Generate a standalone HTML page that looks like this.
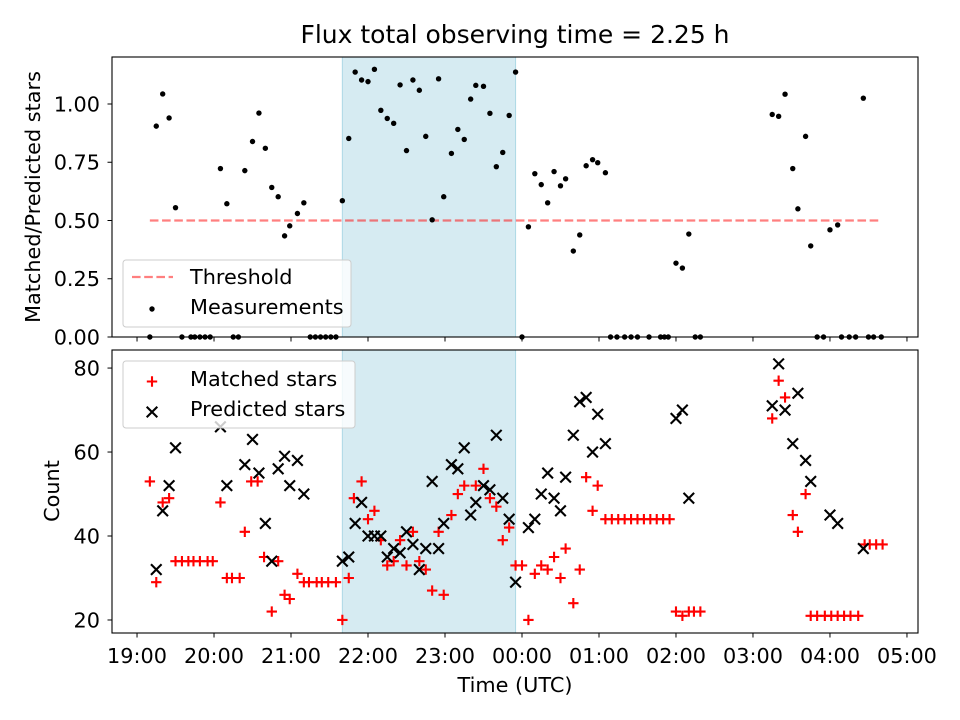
<!DOCTYPE html>
<html><head><meta charset="utf-8">
<style>
html,body{margin:0;padding:0;background:#fff;}
svg{display:block;font-family:"DejaVu Sans","Liberation Sans",sans-serif;}
</style></head>
<body>
<svg id="chart" width="960" height="720" viewBox="0 0 960 720"></svg>
<script>
// ---- data (time in minutes after 19:00 UTC) ----
const shadeStart = 160;   // 21:40
const shadeEnd = 295;     // 23:55
const thresholdValue = 0.5;
const thresholdT0 = 10, thresholdT1 = 580;

const ratioTimes = [15,20,25,30,65,70,84,90,95,100,105,110,115,119,125,130,160,165,170,175,180,185,190,195,200,205,210,215,220,225,230,235,239,245,250,255,260,264,270,275,280,285,290,295,
 305,310,315,320,325,330,334,340,345,350,355,359,365,420,425,430,495,500,505,511,515,521,525,540,546,566,
 10,35,42,45,49,53,57,75,79,135,139,143,147,151,155,300,369,374,380,385,390,399,408,411,414,435,439,530,535,549,555,560,570,574,580];
const ratioValues = [0.905,1.043,0.94,0.555,0.723,0.572,0.714,0.839,0.961,0.81,0.642,0.602,0.434,0.477,0.53,0.576,0.585,0.852,1.137,1.103,1.096,1.149,0.973,0.938,0.917,1.082,0.8,1.103,1.059,0.861,0.503,1.108,0.602,0.788,0.891,0.848,1.021,1.08,1.076,0.96,0.731,0.792,0.951,1.137,
 0.473,0.701,0.654,0.576,0.71,0.649,0.679,0.369,0.438,0.735,0.761,0.748,0.705,0.317,0.296,0.442,0.955,0.947,1.042,0.723,0.55,0.861,0.391,0.46,0.481,1.025,
 0,0,0,0,0,0,0,0,0,0,0,0,0,0,0,0,0,0,0,0,0,0,0,0,0,0,0,0,0,0,0,0,0,0,0];

const matchedTimes = [10,15,20,25,30,35,40,44,49,55,59,65,70,74,80,84,89,94,99,105,110,115,119,125,130,134,140,144,149,155,160,165,169,175,180,185,190,195,200,205,210,215,220,225,230,235,239,245,250,255,264,270,275,280,285,290,295,300,305,310,315,320,325,330,334,340,345,350,355,359,365,370,375,380,385,390,395,400,405,410,415,420,425,430,434,439,495,500,505,511,515,521,525,530,536,541,546,551,556,562,567,571,576,581];
const matchedValues = [53,29,48,49,34,34,34,34,34,34,34,48,30,30,30,41,53,53,35,22,34,26,25,31,29,29,29,29,29,29,20,30,49,53,44,46,39,33,34,39,33,41,34,32,27,41,26,45,50,52,52,56,49,47,39,42,33,33,20,31,33,32,35,30,37,24,32,54,46,52,44,44,44,44,44,44,44,44,44,44,44,22,21,22,22,22,68,77,73,45,41,50,21,21,21,21,21,21,21,21,38,38,38,38];

const predictedTimes = [15,20,25,30,65,70,84,90,95,100,105,110,115,119,125,130,160,165,170,175,180,185,190,195,200,205,210,215,220,225,230,235,239,245,250,255,260,264,270,275,280,285,290,295,305,310,315,320,325,330,334,340,345,350,355,359,365,420,425,430,495,500,505,511,515,521,525,540,546,566];
const predictedValues = [32,46,52,61,66,52,57,63,55,43,34,56,59,52,58,50,34,35,43,48,40,40,40,35,37,36,41,38,32,37,53,37,43,57,56,61,45,48,52,51,64,49,44,29,42,44,50,55,49,46,54,64,72,73,60,69,62,68,70,49,71,81,70,62,74,58,53,45,43,37];

const xTickLabels = ["19:00","20:00","21:00","22:00","23:00","00:00","01:00","02:00","03:00","04:00","05:00"];
const topYTicks = [0,0.25,0.5,0.75,1.0];
const botYTicks = [20,40,60,80];

// ---- scales ----
const NS = "http://www.w3.org/2000/svg";
const svg = document.getElementById("chart");
const L = 112, R = 918;
const tMin = -19.5, tMax = 608.6;
function xs(t){ return L + (t - tMin) / (tMax - tMin) * (R - L); }
const topT = 57, topB = 337, rMin = 0, rMax = 1.2017;
function yTop(v){ return topB - (v - rMin) / (rMax - rMin) * (topB - topT); }
const botT = 350, botB = 633, cMin = 16.9, cMax = 84.3;
function yBot(v){ return botB - (v - cMin) / (cMax - cMin) * (botB - botT); }

const FS = "20.8";
function el(tag, attrs, parent){
  const e = document.createElementNS(NS, tag);
  for (const k in attrs) e.setAttribute(k, attrs[k]);
  (parent || svg).appendChild(e);
  return e;
}

// title
const title = el("text",{x:515,y:43,"text-anchor":"middle","font-size":"25"});
title.textContent = "Flux total observing time = 2.25 h";



// clip paths
const defs = el("defs",{});
const c1 = el("clipPath",{id:"clipTop"},defs); el("rect",{x:L,y:topT-3,width:R-L,height:topB-topT+6},c1);
const c2 = el("clipPath",{id:"clipBot"},defs); el("rect",{x:L,y:botT,width:R-L,height:botB-botT},c2);

// shaded windows
[[topT,topB],[botT,botB]].forEach(function(p,i){
  const r = el("rect",{x:xs(shadeStart),y:p[0],width:xs(shadeEnd)-xs(shadeStart),height:p[1]-p[0],fill:"#add8e6","fill-opacity":"0.5",stroke:"#add8e6","stroke-width":"1"});
  
  
});

// threshold line
const thr = el("line",{x1:xs(thresholdT0),x2:xs(thresholdT1),y1:yTop(thresholdValue),y2:yTop(thresholdValue),stroke:"#ff0000","stroke-opacity":"0.5","stroke-width":"2.2","stroke-dasharray":"8.6,3.6"});



// ratio points
const gR = el("g",{"clip-path":"url(#clipTop)"});


for (let i=0;i<ratioTimes.length;i++){
  const c = el("circle",{cx:xs(ratioTimes[i]),cy:yTop(ratioValues[i]),r:2.7,fill:"#000"},gR);
  
  
}

// matched stars (+)
const gM = el("g",{"clip-path":"url(#clipBot)",stroke:"#ff0000","stroke-width":"2.1"});


for (let i=0;i<matchedTimes.length;i++){
  const x = xs(matchedTimes[i]), y = yBot(matchedValues[i]), s = 5.2;
  const p = el("path",{d:"M"+(x-s)+","+y+"H"+(x+s)+"M"+x+","+(y-s)+"V"+(y+s)},gM);
  
  
}
// predicted stars (x)
const gP = el("g",{"clip-path":"url(#clipBot)",stroke:"#000","stroke-width":"2.1"});


for (let i=0;i<predictedTimes.length;i++){
  const x = xs(predictedTimes[i]), y = yBot(predictedValues[i]), s = 5.3;
  const p = el("path",{d:"M"+(x-s)+","+(y-s)+"L"+(x+s)+","+(y+s)+"M"+(x-s)+","+(y+s)+"L"+(x+s)+","+(y-s)},gP);
  
  
}

// axes frames
[[topT,topB,'top-axes-frame'],[botT,botB,'bottom-axes-frame']].forEach(function(p){
  const r = el("rect",{x:L,y:p[0],width:R-L,height:p[1]-p[0],fill:"none",stroke:"#000","stroke-width":"1.1"});
  
  
});

// x ticks
for (let i=0;i<xTickLabels.length;i++){
  const x = xs(i*60);
  el("line",{x1:x,x2:x,y1:topB,y2:topB+4.5,stroke:"#000","stroke-width":"1"});
  el("line",{x1:x,x2:x,y1:botB,y2:botB+4.5,stroke:"#000","stroke-width":"1"});
  const t = el("text",{x:x,y:663,"text-anchor":"middle","font-size":FS});
  t.textContent = xTickLabels[i];
  
  
}
// top y ticks
for (let i=0;i<topYTicks.length;i++){
  const y = yTop(topYTicks[i]);
  el("line",{x1:L-4.5,x2:L,y1:y,y2:y,stroke:"#000","stroke-width":"1"});
  const t = el("text",{x:L-12,y:y+7.5,"text-anchor":"end","font-size":FS});
  t.textContent = topYTicks[i].toFixed(2);
  
  
}
// bottom y ticks
for (let i=0;i<botYTicks.length;i++){
  const y = yBot(botYTicks[i]);
  el("line",{x1:L-4.5,x2:L,y1:y,y2:y,stroke:"#000","stroke-width":"1"});
  const t = el("text",{x:L-12,y:y+7.5,"text-anchor":"end","font-size":FS});
  t.textContent = String(botYTicks[i]);
  
  
}

// axis titles
const yl1 = el("text",{x:0,y:0,"text-anchor":"middle","font-size":FS,transform:"translate(40,197) rotate(-90)"});
yl1.textContent = "Matched/Predicted stars";


const yl2 = el("text",{x:0,y:0,"text-anchor":"middle","font-size":FS,transform:"translate(59,491) rotate(-90)"});
yl2.textContent = "Count";


const xl = el("text",{x:515,y:692,"text-anchor":"middle","font-size":FS});
xl.textContent = "Time (UTC)";



// legends
function legend(x,y,w,h,name){
  const g = el("g",{});
  
  
  el("rect",{x:x,y:y,width:w,height:h,rx:3,fill:"#fff","fill-opacity":"0.8",stroke:"#ccc","stroke-width":"1"},g);
  return g;
}
const lg1 = legend(123,260,228,67,'top-legend');
el("line",{x1:132,x2:173,y1:277,y2:277,stroke:"#ff0000","stroke-opacity":"0.5","stroke-width":"2.2","stroke-dasharray":"8.6,3.6"},lg1);
const lt1 = el("text",{x:190,y:284,"font-size":FS},lg1); lt1.textContent="Threshold";


el("circle",{cx:152,cy:309,r:2.7,fill:"#000"},lg1);
const lt2 = el("text",{x:190,y:314,"font-size":FS},lg1); lt2.textContent="Measurements";



const lg2 = legend(123,361,232,67,'bottom-legend');
el("path",{d:"M146.8,381.5H157.2M152,376.3V386.7",stroke:"#ff0000","stroke-width":"2.1"},lg2);
const lt3 = el("text",{x:190,y:386,"font-size":FS},lg2); lt3.textContent="Matched stars";


el("path",{d:"M146.7,406.7L157.3,417.3M146.7,417.3L157.3,406.7",stroke:"#000","stroke-width":"2.1"},lg2);
const lt4 = el("text",{x:190,y:416,"font-size":FS},lg2); lt4.textContent="Predicted stars";


</script>
</body></html>
